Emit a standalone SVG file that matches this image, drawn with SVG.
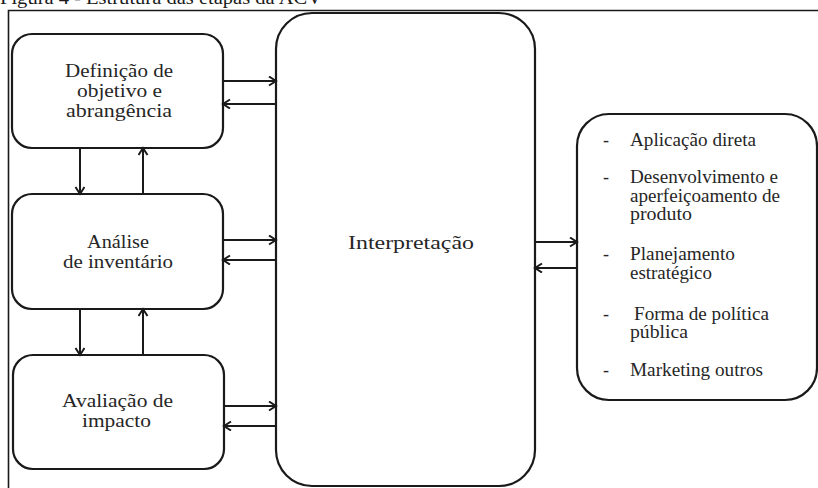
<svg xmlns="http://www.w3.org/2000/svg" width="818" height="488" viewBox="0 0 818 488">
  <style>
    .box { fill: #ffffff; stroke: #1a1a1a; stroke-width: 2.2; }
    .frame { fill: none; stroke: #1a1a1a; stroke-width: 1.6; }
    .lbl { font-family: "Liberation Serif", "Times New Roman", "DejaVu Serif", serif; font-size: 18px; fill: #262626; }
    .cap { font-family: "Liberation Serif", "Times New Roman", "DejaVu Serif", serif; font-size: 18px; fill: #1a1a1a; }
    .conn line { stroke: #1a1a1a; stroke-width: 2; marker-end: url(#arrow); }
  </style>
  <defs>
    <marker id="arrow" markerUnits="userSpaceOnUse" markerWidth="12" markerHeight="12" refX="9" refY="5" orient="auto">
      <path d="M2,0.5 L9,5 L2,9.5" fill="none" stroke="#1a1a1a" stroke-width="2"/>
    </marker>
  </defs>
  <rect width="818" height="488" fill="#ffffff"/>

  <!-- caption line, mostly above the top edge -->
  <text class="cap" x="0" y="4" textLength="322" lengthAdjust="spacingAndGlyphs">Figura 4 - Estrutura das etapas da ACV</text>

  <!-- outer frame -->
  <path class="frame" d="M8.5,498 L8.5,10.5 L818,10.5"/>

  <g id="definicao">
    <rect class="box" x="12" y="34" width="211" height="114" rx="20"/>
    <text class="lbl" x="65" y="77" textLength="108" lengthAdjust="spacingAndGlyphs">Definição de</text>
    <text class="lbl" x="77" y="97" textLength="85" lengthAdjust="spacingAndGlyphs">objetivo e</text>
    <text class="lbl" x="66" y="117" textLength="106" lengthAdjust="spacingAndGlyphs">abrangência</text>
  </g>

  <g id="inventario">
    <rect class="box" x="12" y="194" width="211" height="115" rx="20"/>
    <text class="lbl" x="87" y="248" textLength="62" lengthAdjust="spacingAndGlyphs">Análise</text>
    <text class="lbl" x="63" y="268" textLength="110" lengthAdjust="spacingAndGlyphs">de inventário</text>
  </g>

  <g id="avaliacao">
    <rect class="box" x="13" y="355" width="211" height="114" rx="20"/>
    <text class="lbl" x="62" y="407" textLength="111" lengthAdjust="spacingAndGlyphs">Avaliação de</text>
    <text class="lbl" x="82" y="427" textLength="69" lengthAdjust="spacingAndGlyphs">impacto</text>
  </g>

  <g id="interpretacao">
    <rect class="box" x="276" y="13" width="259" height="473" rx="36"/>
    <text class="lbl" x="348" y="249" textLength="126" lengthAdjust="spacingAndGlyphs">Interpretação</text>
  </g>

  <g id="aplicacoes">
    <rect class="box" x="577" y="114" width="240" height="286" rx="32"/>
    <g class="lbl">
      <text x="603" y="146">-</text>
      <text x="630" y="146" textLength="126" lengthAdjust="spacingAndGlyphs">Aplicação direta</text>
      <text x="603" y="183">-</text>
      <text x="630" y="183" textLength="148" lengthAdjust="spacingAndGlyphs">Desenvolvimento e</text>
      <text x="630" y="202" textLength="150" lengthAdjust="spacingAndGlyphs">aperfeiçoamento de</text>
      <text x="630" y="220" textLength="62" lengthAdjust="spacingAndGlyphs">produto</text>
      <text x="603" y="260">-</text>
      <text x="630" y="260" textLength="105" lengthAdjust="spacingAndGlyphs">Planejamento</text>
      <text x="630" y="279" textLength="82" lengthAdjust="spacingAndGlyphs">estratégico</text>
      <text x="603" y="320">-</text>
      <text x="634" y="320" textLength="135" lengthAdjust="spacingAndGlyphs">Forma de política</text>
      <text x="630" y="338" textLength="58" lengthAdjust="spacingAndGlyphs">pública</text>
      <text x="603" y="376">-</text>
      <text x="630" y="376" textLength="133" lengthAdjust="spacingAndGlyphs">Marketing outros</text>
    </g>
  </g>

  <g id="connectors" class="conn">
    <!-- stage boxes to interpretation and back -->
    <line x1="223" y1="81" x2="276" y2="81"/>
    <line x1="276" y1="104" x2="223" y2="104"/>
    <line x1="223" y1="240" x2="276" y2="240"/>
    <line x1="276" y1="260" x2="223" y2="260"/>
    <line x1="224" y1="406" x2="276" y2="406"/>
    <line x1="276" y1="426" x2="224" y2="426"/>
    <!-- vertical links between stages -->
    <line x1="80" y1="148" x2="80" y2="194"/>
    <line x1="143" y1="194" x2="143" y2="148"/>
    <line x1="80" y1="309" x2="80" y2="355"/>
    <line x1="143" y1="355" x2="143" y2="309"/>
    <!-- interpretation to applications -->
    <line x1="535" y1="242" x2="577" y2="242"/>
    <line x1="577" y1="268" x2="535" y2="268"/>
  </g>
</svg>
